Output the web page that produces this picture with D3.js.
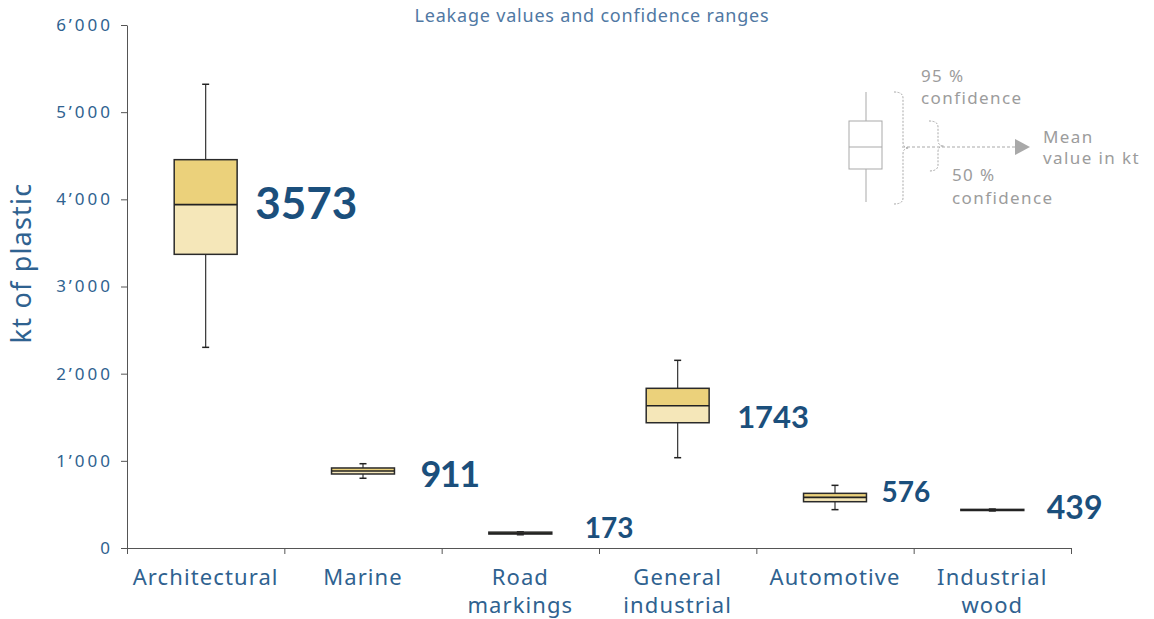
<!DOCTYPE html>
<meta charset="utf-8">
<style>
body { margin: 0; background: #fff; }
svg { font-family: "Noto Sans", sans-serif; }
.axis path, .axis line { stroke: #555; }
.axis text { fill: #2f6290; font-size: 17px; letter-spacing: 3px; font-family: "Noto Sans", sans-serif; }
.cat { fill: #2f6290; font-size: 22px; letter-spacing: 1.1px; }
.ytitle { fill: #2f6290; font-size: 27px; letter-spacing: 1.2px; }
.title { fill: #5078a3; font-size: 18px; letter-spacing: 0.8px; }
.val { fill: #1b4f7c; font-weight: bold; font-family: Lato, sans-serif; }
.legend text { fill: #9c9c9c; font-size: 17px; letter-spacing: 1.4px; }
</style>
<body>
<svg id="chart"></svg>
<script src="https://d3js.org/d3.v7.min.js"></script>
<script>

var categories = ["Architectural", "Marine", "Road markings", "General industrial", "Automotive", "Industrial wood"];
var whiskerLow  = [2302, 800, 152, 1036, 440, 425];
var q1          = [3369, 849, 160, 1437, 531, 430];
var median      = [3939, 883, 170, 1632, 581, 436];
var q3          = [4455, 918, 182, 1832, 627, 443];
var whiskerHigh = [5320, 967, 186, 2153, 719, 447];
var meanValue   = [3573, 911, 173, 1743, 576, 439];
var yTicks = [0, 1000, 2000, 3000, 4000, 5000, 6000];

// label layout (offsets from box edge / median line, font size)
var labelDx   = [18, 26, 33, 28, 15, 23];
var labelDy   = [-3, 2, -6, 10, -6, -3];
var labelSize = [44, 36, 28, 31, 28, 32];

var width = 1154,
    height = 619;

var svg = d3.select("#chart")
    .attr("width", width)
    .attr("height", height);

var y = d3.scaleLinear()
    .domain([0, 6000])
    .range([548, 25]);

var x = d3.scaleBand()
    .domain(categories)
    .range([127, 1071])
    .padding(0);

var xEdges = d3.scaleLinear()
    .domain([0, categories.length])
    .range(x.range());

var boxW = x.bandwidth() * 0.4;

svg.append("text")
    .attr("class", "title")
    .attr("x", 592)
    .attr("y", 22)
    .attr("text-anchor", "middle")
    .text("Leakage values and confidence ranges");

// y axis
var fmt = function(d) { return d === 0 ? "0" : (d / 1000) + "\u2019000"; };
svg.append("g")
    .attr("class", "axis")
    .attr("transform", "translate(127,0)")
    .call(d3.axisLeft(y).tickValues(yTicks).tickFormat(fmt).tickSize(6).tickSizeOuter(0).tickPadding(8));

// x axis: ticks at category boundaries
svg.append("g")
    .attr("class", "axis")
    .attr("transform", "translate(0,548)")
    .call(d3.axisBottom(xEdges).tickValues(d3.range(categories.length + 1)).tickFormat("").tickSize(6).tickSizeOuter(0));

svg.append("g").selectAll("text")
  .data(categories)
  .enter().append("text")
    .attr("class", "cat")
    .attr("text-anchor", "middle")
    .attr("x", function(d) { return x(d) + x.bandwidth() / 2; })
    .attr("y", 585)
    .each(function(d) {
      var words = d.split(" ");
      var t = d3.select(this);
      words.forEach(function(w, i) {
        t.append("tspan")
          .attr("x", x(d) + x.bandwidth() / 2)
          .attr("dy", i === 0 ? 0 : 28)
          .text(w);
      });
    });

svg.append("text")
    .attr("class", "ytitle")
    .attr("transform", "translate(31,263)rotate(-90)")
    .attr("text-anchor", "middle")
    .text("kt of plastic");

// boxes
var boxes = svg.append("g").selectAll("g")
  .data(categories)
  .enter().append("g");

boxes.each(function(d, i) {
  var g = d3.select(this);
  var cx = x(d) + x.bandwidth() / 2;
  var x0 = cx - boxW / 2;

  g.append("line")
      .attr("x1", cx).attr("x2", cx)
      .attr("y1", y(whiskerHigh[i])).attr("y2", y(q3[i]))
      .attr("stroke", "#333").attr("stroke-width", 1.2);
  g.append("line")
      .attr("x1", cx).attr("x2", cx)
      .attr("y1", y(q1[i])).attr("y2", y(whiskerLow[i]))
      .attr("stroke", "#333").attr("stroke-width", 1.2);
  [whiskerHigh[i], whiskerLow[i]].forEach(function(v) {
    g.append("line")
        .attr("x1", cx - 3.5).attr("x2", cx + 3.5)
        .attr("y1", y(v)).attr("y2", y(v))
        .attr("stroke", "#222").attr("stroke-width", 1.5);
  });

  g.append("rect")
      .attr("x", x0).attr("width", boxW)
      .attr("y", y(q3[i])).attr("height", y(median[i]) - y(q3[i]))
      .attr("fill", "#ebd17b");
  g.append("rect")
      .attr("x", x0).attr("width", boxW)
      .attr("y", y(median[i])).attr("height", y(q1[i]) - y(median[i]))
      .attr("fill", "#f5e7b9");
  g.append("rect")
      .attr("x", x0).attr("width", boxW)
      .attr("y", y(q3[i])).attr("height", y(q1[i]) - y(q3[i]))
      .attr("fill", "none")
      .attr("stroke", "#2a2a2a").attr("stroke-width", 1.5);
  g.append("line")
      .attr("x1", x0).attr("x2", x0 + boxW)
      .attr("y1", y(median[i])).attr("y2", y(median[i]))
      .attr("stroke", "#222").attr("stroke-width", 1.6);

  g.append("text")
      .attr("class", "val")
      .attr("x", x0 + boxW + labelDx[i])
      .attr("y", y(median[i]) + labelDy[i])
      .attr("dominant-baseline", "central")
      .attr("font-size", labelSize[i] + "px")
      .attr("letter-spacing", meanValue[i] === 911 ? "-1.5px" : null)
      .text(meanValue[i]);
});

// legend
var lg = svg.append("g")
    .attr("class", "legend")
    .attr("transform", "translate(849,92)");

var gray = "#a9a9a9";
lg.append("line").attr("x1", 17).attr("x2", 17).attr("y1", 0).attr("y2", 110).attr("stroke", gray);
lg.append("rect").attr("x", 0).attr("y", 29).attr("width", 33).attr("height", 48)
    .attr("fill", "#fff").attr("stroke", gray);
lg.append("line").attr("x1", 0).attr("x2", 33).attr("y1", 55).attr("y2", 55).attr("stroke", gray);

function brace(x0, y1, y2, w) {
  var ym = (y1 + y2) / 2, r = Math.min(6, w);
  return "M" + x0 + "," + y1 +
    "Q" + (x0 + w) + "," + y1 + " " + (x0 + w) + "," + (y1 + r) +
    "L" + (x0 + w) + "," + (ym - r) +
    "Q" + (x0 + w) + "," + ym + " " + (x0 + w + r) + "," + ym +
    "Q" + (x0 + w) + "," + ym + " " + (x0 + w) + "," + (ym + r) +
    "L" + (x0 + w) + "," + (y2 - r) +
    "Q" + (x0 + w) + "," + y2 + " " + x0 + "," + y2;
}
lg.append("path").attr("d", brace(45, 0, 112, 9))
    .attr("fill", "none").attr("stroke", gray).attr("stroke-dasharray", "2,1.5");
lg.append("path").attr("d", brace(80, 29, 79, 9))
    .attr("fill", "none").attr("stroke", gray).attr("stroke-dasharray", "2,1.5");
lg.append("line").attr("x1", 53).attr("x2", 167).attr("y1", 55).attr("y2", 55)
    .attr("stroke", gray).attr("stroke-dasharray", "3,2");
lg.append("path").attr("d", "M166,47L181,55L166,63Z").attr("fill", gray);

lg.append("text").attr("x", 72).attr("y", -10).text("95 %");
lg.append("text").attr("x", 72).attr("y", 12).text("confidence");
lg.append("text").attr("x", 194).attr("y", 51).text("Mean");
lg.append("text").attr("x", 194).attr("y", 72).text("value in kt");
lg.append("text").attr("x", 103).attr("y", 89).text("50 %");
lg.append("text").attr("x", 103).attr("y", 112).text("confidence");

</script>
